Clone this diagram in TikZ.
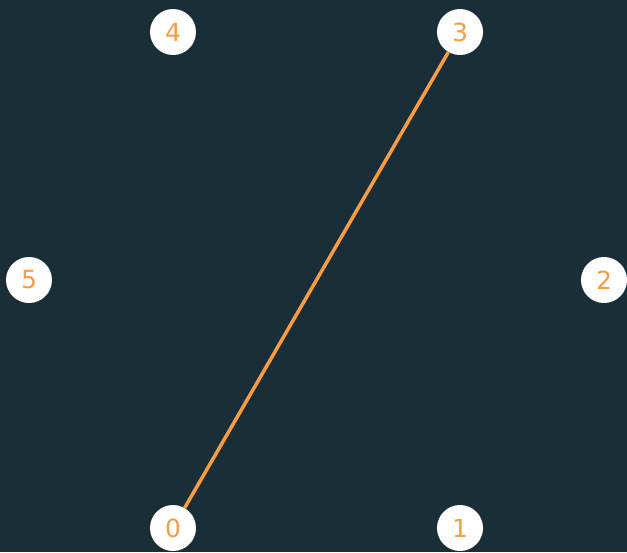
\documentclass[tikz,border=0pt]{standalone}
\usepackage{fontspec}
\setmainfont{DejaVu Sans}
\definecolor{bg}{HTML}{1A2E38}
\definecolor{acc}{HTML}{F79C42}
\begin{document}
\begin{tikzpicture}[x=1pt,y=-1pt,
  vtx/.style={circle,fill=white,minimum size=46pt,inner sep=0pt,text=acc,font=\fontsize{25}{25}\selectfont},
  edge/.style={draw=acc,line width=3.5pt}]
\fill[bg] (0,0) rectangle (627,552);
\useasboundingbox (0,0) rectangle (627,552);
\node[vtx] (n0) at (173,528) {0};
\node[vtx] (n1) at (460,528) {1};
\node[vtx] (n2) at (604,280) {2};
\node[vtx] (n3) at (460,32) {3};
\node[vtx] (n4) at (173,32) {4};
\node[vtx] (n5) at (29,280) {5};
\draw[edge] (n0) -- (n3);
\end{tikzpicture}
\end{document}
